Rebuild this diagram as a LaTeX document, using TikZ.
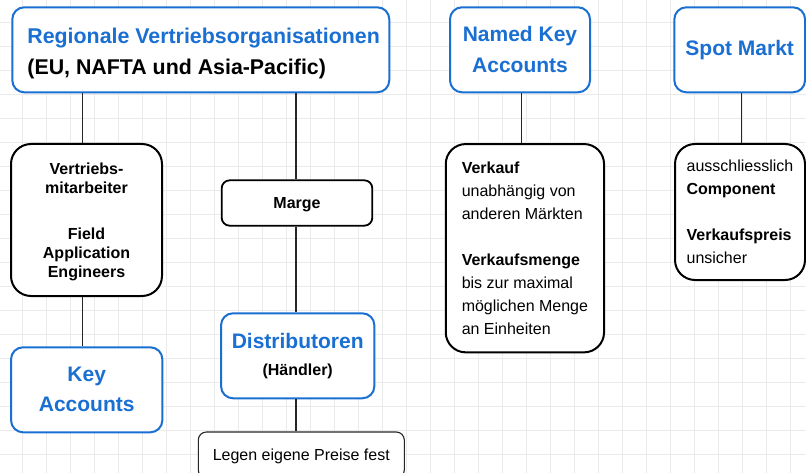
\documentclass[tikz,border=0pt]{standalone}
\usepackage{fontspec}
\setmainfont{Liberation Sans}
\definecolor{boxblue}{HTML}{1A6FD2}
\definecolor{gridgray}{HTML}{EAEAEA}
\tikzset{
  panel/.style={rectangle, inner sep=0pt, fill=white},
  bluebox/.style={panel, draw=boxblue, line width=2pt, rounded corners=12pt},
  blackbox/.style={panel, draw=black, line width=2pt, rounded corners=20pt},
  smallbox/.style={panel, draw=black, line width=1.8pt, rounded corners=8pt},
  notebox/.style={panel, draw=black!85, line width=1.1pt, rounded corners=8pt},
  link/.style={draw=black!85, line width=1.3pt},
  gridline/.style={draw=gridgray, line width=0.9pt},
  bigtext/.style={font=\bfseries\fontsize{21}{31}\selectfont},
  smalltext/.style={font=\fontsize{16}{23}\selectfont},
}
\begin{document}
\begin{tikzpicture}[x=1pt,y=-1pt]
\useasboundingbox (0,0) rectangle (806,473);
\clip (0,0) rectangle (806,473);
\fill[white] (0,0) rectangle (806,473);
% background grid
\foreach \gx in {22.7,46.7,...,806} \draw[gridline] (\gx,0) -- (\gx,473);
\foreach \gy in {22.7,46.7,...,473} \draw[gridline] (0,\gy) -- (806,\gy);

% top row
\node[bluebox, font=\bfseries\fontsize{21.35}{31.5}\selectfont, text height=50pt, text depth=0pt, align=left, minimum width=377pt, minimum height=85pt] (reg) at (200.8,49.8)
  {\hspace*{5.6pt}\textcolor{boxblue}{Regionale Vertriebsorganisationen}\\\hspace*{5.6pt}(EU, NAFTA und Asia-Pacific)};
\node[bluebox, bigtext, text=boxblue, align=center, minimum width=140pt, minimum height=85pt] (named) at (520,49.8)
  {Named Key\\Accounts};
\node[bluebox, bigtext, text=boxblue, minimum width=130.7pt, minimum height=85pt] (spot) at (739.7,49.8)
  {Spot Markt};

% left column
\node[blackbox, font=\bfseries\fontsize{16}{19}\selectfont, text depth=0pt, align=center, minimum width=151pt, minimum height=152pt] (vert) at (86.5,220)
  {Vertriebs-\\mitarbeiter\\[27pt]Field\\Application\\Engineers};
\node[bluebox, bigtext, font=\bfseries\fontsize{21}{30}\selectfont, text=boxblue, align=center, minimum width=151.3pt, minimum height=85pt] (key) at (86.7,389.8)
  {Key\\Accounts};

% middle column
\node[smallbox, font=\bfseries\fontsize{16}{19}\selectfont, text height=11.5pt, text depth=0pt, minimum width=150.6pt, minimum height=45.4pt] (marge) at (297,203)
  {Marge};
\node[bluebox, font=\bfseries\fontsize{16}{27.3}\selectfont, align=center, minimum width=153.3pt, minimum height=85pt] (dist) at (297.7,355.8)
  {{\color{boxblue}\fontsize{21}{27.3}\selectfont Distributoren}\\(Händler)};
\node[notebox, smalltext, text height=11.5pt, text depth=0pt, minimum width=206pt, minimum height=46pt] (preis) at (301.3,455)
  {Legen eigene Preise fest};

% right columns
\node[blackbox, smalltext, align=left, minimum width=158.3pt, minimum height=208.3pt] (verkauf) at (524.9,248.2)
  {\textbf{Verkauf}\\unabhängig von\\anderen Märkten\\[23pt]\textbf{Verkaufsmenge}\\bis zur maximal\\möglichen Menge\\an Einheiten};
\node[blackbox, smalltext, align=left, minimum width=130pt, minimum height=136pt] (spotinfo) at (740,212)
  {ausschliesslich\\\textbf{Component}\\[23pt]\textbf{Verkaufspreis}\\unsicher};

% connectors
\coordinate (xa) at (82.7,0);
\coordinate (xb) at (296,0);
\coordinate (xc) at (521.7,0);
\coordinate (xd) at (741.7,0);
\draw[link] (reg.south -| xa) -- (vert.north -| xa);
\draw[link] (vert.south -| xa) -- (key.north -| xa);
\draw[link] (reg.south -| xb) -- (marge.north -| xb);
\draw[link] (marge.south -| xb) -- (dist.north -| xb);
\draw[link] (dist.south -| xb) -- (preis.north -| xb);
\draw[link] (named.south -| xc) -- (verkauf.north -| xc);
\draw[link] (spot.south -| xd) -- (spotinfo.north -| xd);
\end{tikzpicture}
\end{document}
